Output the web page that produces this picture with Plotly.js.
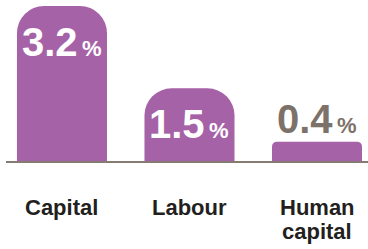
<!DOCTYPE html>
<html>
<head>
<meta charset="utf-8">
<script src="https://cdn.plot.ly/plotly-3.0.1.min.js"></script>
<style>
html,body{margin:0;padding:0;background:#fff;}
#chart{width:368px;height:249px;}
</style>
</head>
<body>
<div id="chart"></div>
<script>
// Data
var categories = ["Capital", "Labour", "Human capital"];
var tickLabels = ["Capital", "Labour", "Human<br>capital"];
var values = [3.2, 1.5, 0.4];
var valueLabels = ["3.2", "1.5", "0.4"];

var barColor = "#a662a6";
var greyText = "#7d726a";
var sans = "Liberation Sans, Arial, sans-serif";

// Tall bars get a large corner radius, the short one a small radius
var bigIdx = [0, 1];
var smallIdx = [2];

function pick(arr, idx) { return idx.map(function (i) { return arr[i]; }); }

var traceBig = {
  type: "bar",
  x: pick(categories, bigIdx),
  y: pick(values, bigIdx),
  width: 0.706,
  marker: { color: barColor, cornerradius: 27, line: { width: 0 } },
  hoverinfo: "skip",
  showlegend: false
};
var traceSmall = {
  type: "bar",
  x: pick(categories, smallIdx),
  y: pick(values, smallIdx),
  width: 0.706,
  marker: { color: barColor, cornerradius: 5, line: { width: 0 } },
  hoverinfo: "skip",
  showlegend: false
};

var annotations = [];
categories.forEach(function (c, i) {
  var inside = values[i] >= 1;
  annotations.push({
    x: c,
    y: values[i],
    xref: "x",
    yref: "y",
    text: valueLabels[i] + "<span style=\"font-size:22px\">\u2009%</span>",
    showarrow: false,
    xanchor: "center",
    yanchor: "middle",
    yshift: inside ? -36 : 23,
    font: {
      family: sans,
      size: 40,
      color: inside ? "#ffffff" : greyText,
      weight: "bold"
    }
  });
  // category label lines (tight line spacing as in the original)
  tickLabels[i].split("<br>").forEach(function (line, j) {
    annotations.push({
      x: c,
      y: 0,
      xref: "x",
      yref: "y",
      text: line,
      showarrow: false,
      xanchor: "center",
      yanchor: "top",
      yshift: -(32 + 23.5 * j),
      font: { family: sans, size: 22, color: "#231f20", weight: "bold" }
    });
  });
});

var layout = {
  width: 368,
  height: 249,
  margin: { l: 6, r: 0, t: 0, b: 88, pad: 0 },
  paper_bgcolor: "#ffffff",
  plot_bgcolor: "#ffffff",
  barmode: "overlay",
  showlegend: false,
  xaxis: {
    type: "category",
    categoryorder: "array",
    categoryarray: categories,
    range: [-0.439, 2.4],
    showgrid: false,
    zeroline: false,
    showline: true,
    linecolor: "#857b74",
    linewidth: 1.5,
    ticks: "",
    showticklabels: false,
    fixedrange: true
  },
  yaxis: {
    range: [0, 3.324],
    visible: false,
    showgrid: false,
    zeroline: false,
    fixedrange: true
  },
  annotations: annotations
};

Plotly.newPlot("chart", [traceBig, traceSmall], layout, { displayModeBar: false, staticPlot: true });
</script>
</body>
</html>
